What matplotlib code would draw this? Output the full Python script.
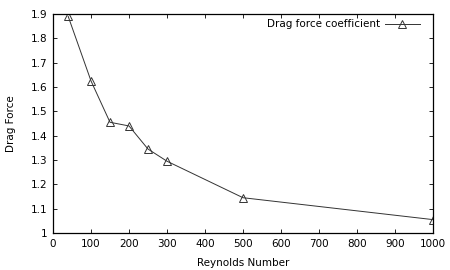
import matplotlib
matplotlib.use("Agg")
import matplotlib.pyplot as plt

reynolds = [40, 100, 150, 200, 250, 300, 500, 1000]
drag = [1.89, 1.625, 1.455, 1.44, 1.345, 1.295, 1.145, 1.055]
xticks = [0, 100, 200, 300, 400, 500, 600, 700, 800, 900, 1000]
yticks = [1, 1.1, 1.2, 1.3, 1.4, 1.5, 1.6, 1.7, 1.8, 1.9]

fig = plt.figure(figsize=(4.5, 2.7), dpi=100)
ax = fig.add_axes([53/450, 1-233/270, (433-53)/450, (233-14)/270])
ax.plot(reynolds, drag, color="#333333", lw=0.7, marker="^", markersize=6,
        markerfacecolor="none", markeredgecolor="#333333", markeredgewidth=0.7,
        label="Drag force coefficient")
ax.set_xlim(0, 1000)
ax.set_ylim(1, 1.9)
ax.set_xticks(xticks)
ax.set_yticks(yticks)
ax.set_yticklabels([f"{v:g}" for v in yticks])
ax.tick_params(direction="in", top=True, right=True, labelsize=7.5, length=3, width=0.6, pad=4)
for s in ax.spines.values():
    s.set_linewidth(0.9)
ax.set_xlabel("Reynolds Number", fontsize=7.5, labelpad=7)
ax.set_ylabel("Drag Force", fontsize=7.5, labelpad=11)
leg = ax.legend(loc="upper right", frameon=False, fontsize=7.5, markerfirst=False,
                handlelength=3.4, handletextpad=0.4, borderaxespad=0.1,
                bbox_to_anchor=(0.98, 1.0))
fig.savefig("out.png", dpi=100)
